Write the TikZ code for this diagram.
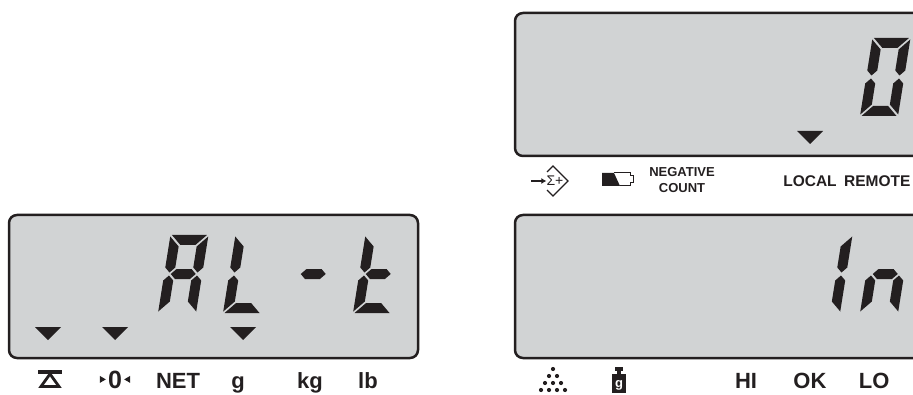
\documentclass[tikz,border=0pt]{standalone}
\usepackage{fontspec}
\setmainfont{Liberation Sans}
\usetikzlibrary{positioning,arrows.meta}
\definecolor{lcdgrey}{RGB}{209,211,212}
\definecolor{lcdink}{RGB}{35,31,32}
\tikzset{lcd box/.style={fill=lcdgrey,draw=lcdink,line width=2.5pt,rounded corners=8pt},
  unit label/.style={font=\bfseries\fontsize{22}{24}\selectfont,inner sep=0pt,anchor=base,text=lcdink},
  mode label/.style={font=\bfseries\fontsize{15.5}{17}\selectfont,inner sep=0pt,text=lcdink},
  tiny label/.style={font=\bfseries\fontsize{13}{15}\selectfont,inner sep=0pt,text=lcdink},
  segment/.style={fill=lcdink},}

% seven segment pieces, digit 38 wide and 78 high
\newcommand{\sega}{\fill[segment] (1.5,78) -- (36.5,78) -- (26.5,68) -- (11.5,68) -- cycle;}
\newcommand{\segb}{\fill[segment] (38,76.5) -- (28,66.5) -- (28,45.5) -- (33,40.5) -- (38,45.5) -- cycle;}
\newcommand{\segc}{\fill[segment] (38,1.5) -- (28,11.5) -- (28,32.5) -- (33,37.5) -- (38,32.5) -- cycle;}
\newcommand{\segd}{\fill[segment] (1.5,0) -- (36.5,0) -- (26.5,10) -- (11.5,10) -- cycle;}
\newcommand{\sege}{\fill[segment] (0,1.5) -- (10,11.5) -- (10,32.5) -- (5,37.5) -- (0,32.5) -- cycle;}
\newcommand{\segf}{\fill[segment] (0,76.5) -- (10,66.5) -- (10,45.5) -- (5,40.5) -- (0,45.5) -- cycle;}
\newcommand{\segg}{\fill[segment] (6.5,39) -- (11.5,44) -- (26.5,44) -- (31.5,39) -- (26.5,34) -- (11.5,34) -- cycle;}
\newcommand{\digitat}[3]{\begin{scope}[shift={(#1,#2)},xslant=0.16]
  \foreach \s in {#3}{\csname seg\s\endcsname}\end{scope}}

\begin{document}
\begin{tikzpicture}[x=1pt,y=1pt]
  \useasboundingbox (0,0) rectangle (913,394);
  \clip (0,0) rectangle (913,394);

  % the three windows
  \draw[lcd box] (9,36) rectangle (418,179);
  \draw[lcd box] (515,238) rectangle (940,381);
  \draw[lcd box] (515,36) rectangle (940,179);

  % AL-t
  \digitat{158}{81}{a,b,c,e,f,g}
  \digitat{223}{81}{d,e,f}
  \digitat{288}{81}{g}
  \digitat{353}{81}{d,e,f,g}
  % 0 and in
  \digitat{860}{278}{a,b,c,d,e,f}
  \digitat{802}{81}{b,c}
  \digitat{860}{81}{c,e,g}

  % pointers
  \foreach \x in {48,115,243}
    \fill[lcdink] (\x-13,67) -- (\x+13,67) -- (\x,54) -- cycle;
  \fill[lcdink] (797,263) -- (823,263) -- (810,250) -- cycle;

  % left legend
  \fill[lcdink] (38,20.5) rectangle (62,24.5);
  \draw[lcdink,line width=2.8pt] (50,20) -- (59,7.5) -- (41,7.5) -- cycle;
  \node[unit label,font=\bfseries\fontsize{25}{26}\selectfont] (zero) at (115,6) {0};
  \fill[lcdink] ([xshift=-2pt]zero.west) -- ++(-6,3.5) -- ++(0,-7) -- cycle;
  \fill[lcdink] ([xshift=2pt]zero.east) -- ++(6,3.5) -- ++(0,-7) -- cycle;
  \node[unit label] (net) at (178,6) {NET};
  \node[unit label] (gram) at (238,6) {g};
  \node[unit label] (kilo) at (310,6) {kg};
  \node[unit label] (pound) at (368,6) {lb};

  % top right legend
  \node[inner sep=0pt,font=\fontsize{14}{14}\selectfont,text=lcdink] (sigma) at (555,213) {Σ+};
  \draw[lcdink,-{Latex[length=5pt,width=6pt]},line width=1.6pt] (531,213) -- (sigma.west);
  \draw[lcdink,line width=1.4pt] (547,222) -- (553,228) -- (568,213) -- (553,198) -- (547,204);
  \fill[lcdink] (602,221) -- (614,221) -- (620,208) -- (602,208) -- cycle;
  \draw[lcdink,line width=1pt] (614,221) -- (630,221) -- (630,218) -- (633,218) -- (633,211)
    -- (630,211) -- (630,208) -- (620,208);
  \node[tiny label,anchor=base] (negative) at (682,217) {NEGATIVE};
  \node[tiny label,below=6pt of negative] (count) {COUNT};
  \node[mode label] (local) at (810,213) {LOCAL};
  \node[mode label,right=7pt of local] (remote) {REMOTE};

  % bottom right legend
  \foreach \r in {0,...,3}
    \foreach \i in {0,...,\r}
      \fill[lcdink] (553-4*\r+8*\i,25-7*\r) circle (2.1);
  \fill[lcdink] (615,23) rectangle (623,27);
  \fill[lcdink] (617,19) rectangle (621,23);
  \fill[lcdink] (612,1) rectangle (626,20);
  \node[inner sep=0pt,font=\bfseries\fontsize{13}{13}\selectfont,text=white] (weight) at (619,9) {g};
  \node[unit label] (hi) at (746,6) {HI};
  \node[unit label,right=36pt of hi] (ok) {OK};
  \node[unit label,right=32pt of ok] (lo) {LO};
\end{tikzpicture}
\end{document}
